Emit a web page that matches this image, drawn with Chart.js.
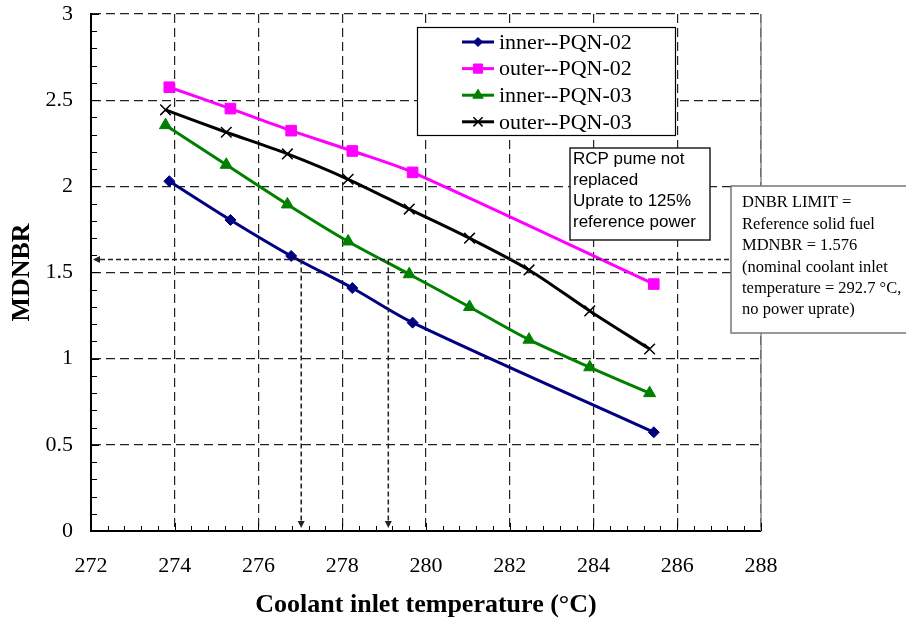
<!DOCTYPE html>
<html lang="en">
<head>
<meta charset="UTF-8">
<title>MDNBR vs coolant inlet temperature</title>
<script src="https://cdn.jsdelivr.net/npm/chart.js"></script>
<style>
  html, body { margin: 0; padding: 0; background: #fff; }
  .wrap { width: 906px; height: 622px; position: relative; }
</style>
</head>
<body>
<div class="wrap"><canvas id="chart"></canvas></div>
<script>
// coolant inlet temperature (°C) of each point
const tempPQN02 = [273.87, 275.33, 276.78, 278.24, 279.68, 285.44];
const tempPQN03 = [273.78, 275.23, 276.69, 278.14, 279.6, 281.04, 282.46, 283.91, 285.34];
// MDNBR values
const innerPQN02 = [2.03, 1.805, 1.596, 1.41, 1.209, 0.573];
const outerPQN02 = [2.575, 2.451, 2.323, 2.205, 2.081, 1.433];
const innerPQN03 = [2.355, 2.125, 1.895, 1.68, 1.49, 1.30, 1.11, 0.95, 0.80];
const outerPQN03 = [2.444, 2.314, 2.188, 2.041, 1.868, 1.699, 1.515, 1.277, 1.056];
const seriesNames = ['inner--PQN-02', 'outer--PQN-02', 'inner--PQN-03', 'outer--PQN-03'];

// axes
const xMin = 272, xMax = 288, xStep = 2, xMinor = 0.4;
const yMin = 0, yMax = 3, yStep = 0.5, yMinor = 0.1;

// limit line and where the arrows drop to the axis
const dnbrLimit = 1.576;
const limitCrossings = [277.02, 279.1];

const rcpNote = ['RCP pume not', 'replaced', 'Uprate to 125%', 'reference power'];
const limitNote = ['DNBR LIMIT =', 'Reference solid fuel', 'MDNBR = 1.576',
  '(nominal coolant inlet', 'temperature = 292.7 \u00B0C,', 'no power uprate)'];

const serif = "'Liberation Serif', 'Times New Roman', serif";
const sans = "'Liberation Sans', Arial, sans-serif";

function pts(xs, ys) {
  return xs.map((x, i) => ({ x: x, y: ys[i] }));
}

const styles = [
  { color: '#000080', pointStyle: 'rectRot', radius: 5.5, bw: 1 },
  { color: '#FF00FF', pointStyle: 'rect', radius: 7.5, bw: 1 },
  { color: '#008000', pointStyle: 'triangle', radius: 7, bw: 1 },
  { color: '#000000', pointStyle: 'crossRot', radius: 7.5, bw: 1.5 }
];
const seriesData = [
  pts(tempPQN02, innerPQN02),
  pts(tempPQN02, outerPQN02),
  pts(tempPQN03, innerPQN03),
  pts(tempPQN03, outerPQN03)
];

const datasets = seriesNames.map((name, i) => ({
  label: name,
  data: seriesData[i],
  borderColor: styles[i].color,
  backgroundColor: styles[i].color,
  borderWidth: 3,
  tension: 0.3,
  pointStyle: styles[i].pointStyle,
  pointRadius: styles[i].radius,
  pointBorderWidth: styles[i].bw,
  pointBorderColor: styles[i].color,
  pointBackgroundColor: styles[i].color
}));

function marker(ctx, style, x, y) {
  // small legend markers, same shapes as the plot
  ctx.save();
  ctx.fillStyle = style.color;
  ctx.strokeStyle = style.color;
  ctx.lineWidth = style.bw;
  const r = style.radius - 1;
  ctx.beginPath();
  if (style.pointStyle === 'rectRot') {
    ctx.moveTo(x, y - r); ctx.lineTo(x + r, y); ctx.lineTo(x, y + r); ctx.lineTo(x - r, y);
    ctx.closePath(); ctx.fill(); ctx.stroke();
  } else if (style.pointStyle === 'rect') {
    const s = r * Math.SQRT1_2;
    ctx.rect(x - s, y - s, 2 * s, 2 * s); ctx.fill(); ctx.stroke();
  } else if (style.pointStyle === 'triangle') {
    for (let k = 0; k < 3; k++) {
      const a = k * 2 * Math.PI / 3;
      const px = x + Math.sin(a) * r, py = y - Math.cos(a) * r;
      if (k === 0) ctx.moveTo(px, py); else ctx.lineTo(px, py);
    }
    ctx.closePath(); ctx.fill(); ctx.stroke();
  } else {
    const d = r * Math.SQRT1_2;
    ctx.moveTo(x - d, y - d); ctx.lineTo(x + d, y + d);
    ctx.moveTo(x + d, y - d); ctx.lineTo(x - d, y + d);
    ctx.stroke();
  }
  ctx.restore();
}

function arrowHead(ctx, x, y, dir) {
  ctx.beginPath();
  if (dir === 'left') {
    ctx.moveTo(x, y); ctx.lineTo(x + 7, y - 3.5); ctx.lineTo(x + 7, y + 3.5);
  } else {
    ctx.moveTo(x, y); ctx.lineTo(x - 3.5, y - 7); ctx.lineTo(x + 3.5, y - 7);
  }
  ctx.closePath();
  ctx.fill();
}

const extras = {
  id: 'extras',
  afterDatasetsDraw(chart) {
    const ctx = chart.ctx;
    const xs = chart.scales.x, ys = chart.scales.y;
    const a = chart.chartArea;
    ctx.save();

    // solid grey right border
    ctx.strokeStyle = '#888';
    ctx.lineWidth = 1.5;
    ctx.beginPath();
    ctx.moveTo(a.right, a.top); ctx.lineTo(a.right, a.bottom);
    ctx.stroke();

    // inner tick marks
    ctx.strokeStyle = '#000';
    ctx.lineWidth = 1;
    ctx.beginPath();
    for (let v = xMin; v <= xMax + 1e-6; v += xMinor) {
      const px = Math.round(xs.getPixelForValue(v)) + 0.5;
      const major = Math.abs(v / xStep - Math.round(v / xStep)) < 1e-6;
      ctx.moveTo(px, a.bottom); ctx.lineTo(px, a.bottom - (major ? 8 : 5));
    }
    for (let v = yMin; v <= yMax + 1e-6; v += yMinor) {
      const py = Math.round(ys.getPixelForValue(v)) + 0.5;
      const major = Math.abs(v / yStep - Math.round(v / yStep)) < 1e-6;
      ctx.moveTo(a.left, py); ctx.lineTo(a.left + (major ? 8 : 6), py);
    }
    ctx.stroke();

    // DNBR limit arrows
    const ly = ys.getPixelForValue(dnbrLimit);
    ctx.strokeStyle = '#222';
    ctx.fillStyle = '#222';
    ctx.lineWidth = 1.5;
    ctx.setLineDash([5, 3]);
    ctx.beginPath();
    ctx.moveTo(a.right, ly); ctx.lineTo(a.left + 4, ly);
    limitCrossings.forEach(t => {
      const px = xs.getPixelForValue(t);
      ctx.moveTo(px, ly); ctx.lineTo(px, a.bottom - 6);
    });
    ctx.stroke();
    ctx.setLineDash([]);
    arrowHead(ctx, a.left + 2, ly, 'left');
    limitCrossings.forEach(t => {
      arrowHead(ctx, xs.getPixelForValue(t), a.bottom - 3, 'down');
    });
    ctx.restore();
  },
  afterDraw(chart) {
    const ctx = chart.ctx;
    ctx.save();

    // legend box
    ctx.fillStyle = '#fff';
    ctx.fillRect(417, 27, 258, 108);
    ctx.strokeStyle = '#000';
    ctx.lineWidth = 1.2;
    ctx.strokeRect(417.5, 27.5, 258, 108);
    ctx.font = '22px ' + serif;
    ctx.textBaseline = 'middle';
    ctx.textAlign = 'left';
    seriesNames.forEach((name, i) => {
      const y = 42 + i * 26.6;
      ctx.strokeStyle = styles[i].color;
      ctx.lineWidth = 3;
      ctx.beginPath();
      ctx.moveTo(462, y); ctx.lineTo(494, y);
      ctx.stroke();
      marker(ctx, styles[i], 478, y);
      ctx.fillStyle = '#000';
      ctx.fillText(name, 499, y + 1);
    });

    // RCP note
    ctx.fillStyle = '#fff';
    ctx.fillRect(570, 148, 140, 92);
    ctx.strokeStyle = '#222';
    ctx.lineWidth = 1.5;
    ctx.strokeRect(570, 148, 140, 92);
    ctx.fillStyle = '#000';
    ctx.font = '17px ' + sans;
    rcpNote.forEach((t, i) => ctx.fillText(t, 573, 159.5 + i * 20.8));

    // DNBR limit note
    ctx.fillStyle = '#fff';
    ctx.fillRect(731, 186, 180, 147);
    ctx.strokeStyle = '#777';
    ctx.lineWidth = 1.5;
    ctx.strokeRect(731, 186, 180, 147);
    ctx.fillStyle = '#000';
    ctx.font = '16.5px ' + serif;
    limitNote.forEach((t, i) => ctx.fillText(t, 742, 203 + i * 21.4));
    ctx.restore();
  }
};

Chart.defaults.font.family = serif;
Chart.defaults.color = '#000';

new Chart(document.getElementById('chart'), {
  type: 'line',
  data: { datasets: datasets },
  options: {
    responsive: true,
    maintainAspectRatio: false,
    animation: false,
    layout: { padding: { left: 0, right: 145, top: 14, bottom: 0 } },
    plugins: {
      legend: { display: false },
      tooltip: { enabled: false }
    },
    scales: {
      x: {
        type: 'linear',
        min: xMin,
        max: xMax,
        afterFit: s => { s.height = 91; s.paddingLeft = 0; s.paddingRight = 0; },
        ticks: { stepSize: xStep, padding: 22, font: { size: 22 } },
        grid: { color: '#222', drawTicks: false, lineWidth: 1.2 },
        border: { color: '#000', width: 2, dash: [9, 5] },
        title: {
          display: true,
          text: 'Coolant inlet temperature (\u00B0C)',
          font: { size: 26, weight: 'bold' },
          padding: { top: 0, bottom: 1 }
        }
      },
      y: {
        min: yMin,
        max: yMax,
        afterFit: s => { s.width = 91; s.paddingTop = 0; s.paddingBottom = 0; },
        ticks: { stepSize: yStep, padding: 18, font: { size: 22 }, callback: v => String(v) },
        grid: { color: '#222', drawTicks: false, lineWidth: 1.2 },
        border: { color: '#000', width: 2, dash: [9, 5] },
        title: {
          display: true,
          text: 'MDNBR',
          font: { size: 26, weight: 'bold' },
          padding: { top: 7, bottom: 0 }
        }
      }
    }
  },
  plugins: [extras]
});
</script>
</body>
</html>
